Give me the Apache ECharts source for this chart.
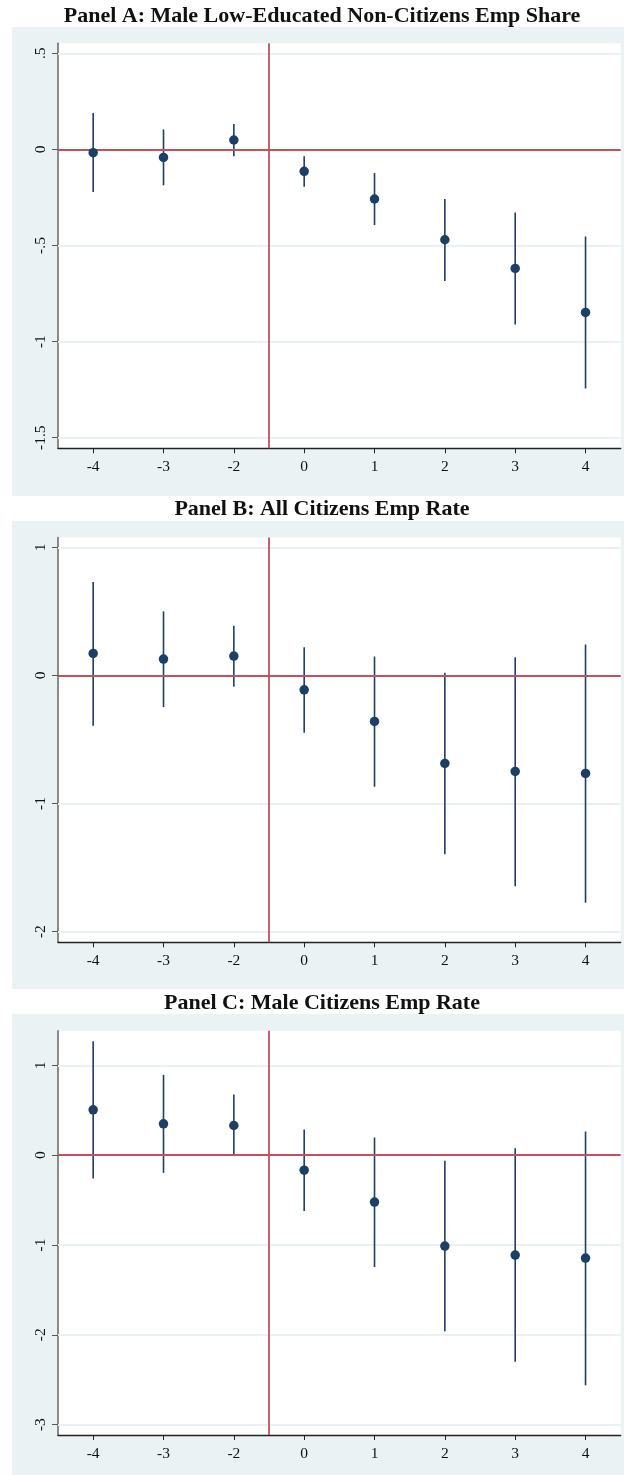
<!DOCTYPE html>
<html><head><meta charset="utf-8">
<script src="https://cdn.jsdelivr.net/npm/echarts@6/dist/echarts.min.js"></script>
<style>html,body{margin:0;padding:0;background:#fff}#c{width:624px;height:1475px}</style>
</head><body><div id="c"></div>
<script>
// ---------- data ----------
const periods = ['-4', '-3', '-2', '0', '1', '2', '3', '4'];

const titleA = 'Panel A: Male Low-Educated Non-Citizens Emp Share';
const coefA = [-0.017, -0.042, 0.049, -0.114, -0.258, -0.470, -0.619, -0.848];
const lowA  = [-0.222, -0.187, -0.036, -0.194, -0.394, -0.685, -0.911, -1.244];
const highA = [0.190, 0.104, 0.132, -0.036, -0.123, -0.258, -0.328, -0.453];
const ticksA = [-1.5, -1, -0.5, 0, 0.5];

const titleB = 'Panel B: All Citizens Emp Rate';
const coefB = [0.172, 0.128, 0.151, -0.112, -0.359, -0.687, -0.749, -0.765];
const lowB  = [-0.393, -0.247, -0.088, -0.448, -0.869, -1.395, -1.645, -1.775];
const highB = [0.730, 0.500, 0.388, 0.221, 0.148, 0.021, 0.143, 0.242];
const ticksB = [-2, -1, 0, 1];

const titleC = 'Panel C: Male Citizens Emp Rate';
const coefC = [0.504, 0.349, 0.330, -0.167, -0.523, -1.012, -1.112, -1.146];
const lowC  = [-0.260, -0.197, -0.011, -0.623, -1.246, -1.961, -2.299, -2.562];
const highC = [1.268, 0.894, 0.675, 0.286, 0.196, -0.063, 0.078, 0.263];
const ticksC = [-3, -2, -1, 0, 1];

const eventLine = 2.5; // between period -2 and 0

// ---------- styling ----------
const NAVY = '#1c3f66';
const RED = '#c4505e';
const BG = '#eaf2f3';
const GRID = '#eaf1f2';
const SERIF = '"Liberation Serif", "Times New Roman", serif';

const panels = [
  { title: titleA, coef: coefA, low: lowA, high: highA, ticks: ticksA, min: -1.555, max: 0.552,
    top: 43.3, height: 405, bg: [12, 27, 469], ty: 16 },
  { title: titleB, coef: coefB, low: lowB, high: highB, ticks: ticksB, min: -2.083, max: 1.077,
    top: 537.5, height: 404.8, bg: [12, 521, 468], ty: 509 },
  { title: titleC, coef: coefC, low: lowC, high: highC, ticks: ticksC, min: -3.115, max: 1.385,
    top: 1030.7, height: 404.3, bg: [12, 1014, 461], ty: 1003 }
];

function fmtY(v) {
  const s = String(Math.round(v * 10) / 10);
  return s.replace(/^(-?)0\./, '$1.');
}

const grids = [], xAxes = [], yAxes = [], series = [], graphics = [];
const xIdx = periods.map((p, i) => i);

panels.forEach((p, k) => {
  graphics.push({ type: 'rect', z: -100, shape: { x: p.bg[0], y: p.bg[1], width: 624 - p.bg[0], height: p.bg[2] },
    style: { fill: BG } });
  graphics.push({ type: 'text', x: 322, y: p.ty, z: 10,
    style: { text: p.title, font: 'bold 22px ' + SERIF, fill: '#111', textAlign: 'center', textVerticalAlign: 'middle' } });

  grids.push({ left: 58, right: 3.3, top: p.top, height: p.height, show: true,
    backgroundColor: '#ffffff', borderWidth: 0 });

  xAxes.push({
    gridIndex: k, type: 'value', min: -0.5, max: 7.5,
    axisLine: { show: true, onZero: false, lineStyle: { color: '#222', width: 1.3 } },
    axisTick: { show: true, length: 5, customValues: xIdx, lineStyle: { color: '#222', width: 1 } },
    axisLabel: { customValues: xIdx, margin: 11, fontFamily: SERIF, fontSize: 15.5, color: '#111',
      formatter: v => periods[Math.round(v)] },
    splitLine: { show: false }
  });
  yAxes.push({
    gridIndex: k, type: 'value', min: p.min, max: p.max,
    axisLine: { show: true, onZero: false, lineStyle: { color: '#707070', width: 1.6 } },
    axisTick: { show: true, length: 6, customValues: p.ticks, lineStyle: { color: '#555', width: 1 } },
    axisLabel: { customValues: p.ticks, rotate: 90, margin: 9, fontFamily: SERIF, fontSize: 15.5, color: '#111',
      formatter: fmtY },
    splitLine: { show: false }
  });

  // confidence intervals (with faint gridlines beneath)
  series.push({
    type: 'custom', xAxisIndex: k, yAxisIndex: k, z: 2,
    data: periods.map((q, i) => [i, p.low[i], p.high[i]]),
    encode: { x: 0, y: [1, 2] },
    renderItem: (params, api) => {
      const x = api.value(0);
      const a = api.coord([x, api.value(1)]);
      const b = api.coord([x, api.value(2)]);
      return { type: 'line', shape: { x1: a[0], y1: a[1], x2: b[0], y2: b[1] },
        style: { stroke: NAVY, lineWidth: 1.6 } };
    },
    markLine: { silent: true, symbol: 'none', z: 1, label: { show: false },
      lineStyle: { color: GRID, width: 1.8, type: 'solid' },
      data: p.ticks.map(t => ({ yAxis: t })) }
  });

  // point estimates + reference lines
  series.push({
    type: 'scatter', xAxisIndex: k, yAxisIndex: k, z: 10,
    symbol: 'circle', symbolSize: 9.5,
    itemStyle: { color: NAVY, opacity: 1 },
    data: periods.map((q, i) => [i, p.coef[i]]),
    markLine: { silent: true, symbol: 'none', z: 5, label: { show: false },
      lineStyle: { color: RED, width: 1.8, type: 'solid' },
      data: [{ yAxis: 0 }, { xAxis: eventLine }] }
  });
});

const chart = echarts.init(document.getElementById('c'), null, { renderer: 'canvas' });
chart.setOption({
  animation: false,
  backgroundColor: '#ffffff',
  graphic: graphics,
  grid: grids,
  xAxis: xAxes,
  yAxis: yAxes,
  series: series
});
</script>
</body></html>
